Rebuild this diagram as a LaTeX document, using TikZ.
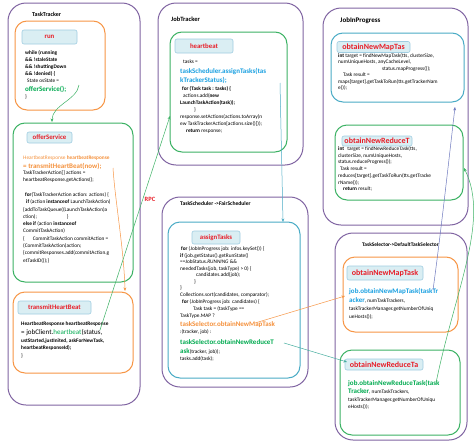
\documentclass[tikz,border=0pt]{standalone}
\usepackage{fontspec}
\setmainfont{Carlito}
\usetikzlibrary{arrows.meta}
\definecolor{cpurple}{RGB}{128,100,162}
\definecolor{corange}{RGB}{247,150,70}
\definecolor{cgreen}{RGB}{60,178,100}
\definecolor{ccyan}{RGB}{75,172,198}
\definecolor{hfill}{RGB}{218,238,243}
\definecolor{hline}{RGB}{160,205,225}
\definecolor{tred}{RGB}{232,30,40}
\definecolor{tblue}{RGB}{25,160,225}
\definecolor{tgreen}{RGB}{0,170,80}
\definecolor{torange}{RGB}{245,145,60}
\definecolor{cline}{RGB}{110,120,190}
\newcommand\cf{\fontsize{5.3}{6.5}\selectfont}
\newcommand\cbig{\fontsize{7}{8}\selectfont\bfseries}
\begin{document}
\begin{tikzpicture}[x=1pt,y=-1pt,
 outer/.style={draw=cpurple, line width=1pt, rounded corners=18pt},
 inbox/.style={line width=1pt, rounded corners=12pt},
 hdr/.style={fill=hfill, draw=hline, line width=0.6pt, rounded corners=2pt, inner sep=0pt, font=\fontsize{6.8}{8}\selectfont\bfseries, text=tred},
 hdrbig/.style={hdr, font=\fontsize{8}{9}\selectfont\bfseries},
 code/.style={font=\cf, anchor=base west, inner sep=0pt},
 ttl/.style={anchor=base west, inner sep=0pt},
 conn/.style={line width=0.5pt, -{Stealth[length=3.5pt,width=2.8pt]}},
]
\useasboundingbox (0,0) rectangle (474,442);
\fill[white] (0,0) rectangle (474,442);

% ---------------- TaskTracker ----------------
\draw[outer] (8,3) rectangle (140,405);
\node[ttl, font=\fontsize{6}{7}\selectfont\bfseries] (tTT) at (32,16) {TaskTracker};
\draw[inbox, draw=corange] (15,21) rectangle (105,110);
\draw[inbox, draw=cgreen] (13,123) rectangle (133,282);
\draw[inbox, draw=corange] (13,292) rectangle (133,373);

\foreach \t [count=\i from 0] in {{while (running},{\&\& !staleState},{\&\& !shuttingDown},{\&\& !denied) \{}}
  \node[code, font=\cf\bfseries] (run\i) at (25,54.5+7*\i) {\t};
\node[code] (run4) at (27,82.5) {State osState =};
\node[code, font=\cbig, text=tgreen] (run5) at (25,91.5) {offerService();};
\node[code] (run6) at (25,98.5) {\}};

\node[code, text=torange] (of0) at (23,159.5) {HeartbeatResponse \textbf{heartbeatResponse}};
\node[code, font=\cbig, text=torange] (of1) at (23,168) {= transmitHeartBeat(now);};
\foreach \t [count=\i from 2] in {
 {TaskTrackerAction[] actions =},
 {heartbeatResponse.getActions();},
 {},
 {\hspace*{2pt}\textbf{for}(TaskTrackerAction action: actions) \{},
 {\hspace*{3pt}\textbf{if} (action \textbf{instanceof} LaunchTaskAction)},
 {\{addToTaskQueue((LaunchTaskAction)a},
 {ction);\hspace*{30pt}\}},
 {\textbf{else if} (action \textbf{instanceof}},
 {CommitTaskAction)},
 {\{\hspace*{8pt}CommitTaskAction commitAction =},
 {(CommitTaskAction)action;},
 {\{commitResponses.add(commitAction.g},
 {etTaskID());\}}}
  \node[code] (of\i) at (23,174.5+7.3*\i-14.6) {\t};

\node[code, font=\cf\bfseries] (th0) at (21,325.5) {HeartbeatResponse heartbeatResponse};
\node[code, font=\fontsize{7}{8}\selectfont] (th1) at (21,334.5) {= jobClient.\textcolor{tgreen}{heartbeat}(status,};
\node[code, font=\cf\bfseries] (th2) at (21,342.5) {ustStarted,justInited, askForNewTask,};
\node[code, font=\cf\bfseries] (th3) at (21,349.5) {heartbeatResponseId);};
\node[code] (th4) at (21,357.5) {\}};

\node[hdr, minimum width=55pt, minimum height=14pt] (hrun) at (49.5,37) {run};
\node[hdr, minimum width=45pt, minimum height=11pt] (hof) at (49.5,137.5) {offerService};
\node[hdr, minimum width=73pt, minimum height=13pt] (hth) at (54.5,307.5) {transmitHeartBeat};

% ---------------- JobTracker ----------------
\draw[outer] (158,3) rectangle (303,165);
\node[ttl, font=\fontsize{6.5}{7}\selectfont\bfseries] (tJT) at (171,21) {JobTracker};
\draw[inbox, draw=cgreen] (170,32) rectangle (287,152);
\node[code] (hb0) at (183,63.5) {tasks =};
\node[code, font=\cbig, text=tblue] (hb1) at (180,73) {taskScheduler.assignTasks(tas};
\node[code, font=\cbig, text=tblue] (hb2) at (180,82) {kTrackerStatus);};
\foreach \t [count=\i from 3] in {
 {\hspace*{2pt}\textbf{for (Task task : tasks) \{}},
 {\hspace*{3pt}actions.add(\textbf{new}},
 {\textbf{LaunchTaskAction(task));}},
 {\hspace*{14pt}\}},
 {response.setActions(actions.toArray(n},
 {ew TaskTrackerAction[actions.size()]));},
 {\hspace*{6pt}\textbf{return} response;}}
  \node[code] (hb\i) at (180,90.5+7*\i-21) {\t};
\node[hdr, minimum width=58pt, minimum height=14pt] (hhb) at (204,46) {heartbeat};

% ---------------- TaskScheduler ----------------
\draw[outer] (162,197) rectangle (308,387);
\node[ttl, font=\fontsize{5.6}{7}\selectfont\bfseries] (tTS) at (180,205) {TaskScheduler ->FairScheduler};
\draw[inbox, draw=ccyan] (168,222) rectangle (300,378);
\foreach \t [count=\i from 0] in {
 {\hspace*{1pt}\textbf{for} (JobInProgress job: infos.keySet()) \{},
 {\textbf{if} (job.getStatus().getRunState()},
 {==JobStatus.\textit{RUNNING} \&\&},
 {neededTasks(job, taskType) > 0) \{},
 {\hspace*{16pt}candidates.add(job);},
 {\hspace*{14pt}\}},
 {\}},
 {Collections.sort(candidates, comparator);}}
  \node[code] (as\i) at (180,250.5+6.5*\i) {\t};
\node[code] (as8) at (180,303.5) {\hspace*{2pt}\textbf{for} (JobInProgress job: candidates) \{};
\node[code] (as9) at (180,310.5) {\hspace*{13pt}Task task = (taskType ==};
\node[code] (as10) at (180,317.5) {TaskType.MAP ?};
\node[code, font=\cbig, text=torange] (as11) at (180,326.5) {taskSelector.obtainNewMapTask};
\node[code] (as12) at (180,333.5) {:(tracker, job) :};
\node[code, font=\cbig, text=tgreen] (as13) at (180,344) {taskSelector.obtainNewReduceT};
\node[code] (as14) at (180,353) {\textcolor{tgreen}{\cbig ask}(tracker, job));};
\node[code] (as15) at (180,360) {tasks.add(task);};
\node[hdr, minimum width=48pt, minimum height=13pt] (has) at (216,237.5) {assignTasks};

% ---------------- JobInProgress ----------------
\draw[outer] (323,8) rectangle (468,225);
\node[ttl, font=\fontsize{7}{8}\selectfont\bfseries] (tJP) at (340,22.5) {JobInProgress};
\draw[inbox, draw=ccyan] (331,33) rectangle (464,102);
\foreach \t [count=\i from 0] in {
 {\textbf{int} target = findNewMapTask(tts, clusterSize,},
 {numUniqueHosts, anyCacheLevel,},
 {\hspace*{44pt}status.mapProgress());},
 {\hspace*{5pt}Task result =},
 {maps[target].getTaskToRun(tts.getTrackerNam},
 {e());}}
  \node[code] (jm\i) at (338,57.5+6.4*\i) {\t};
\node[hdrbig, minimum width=73pt, minimum height=11pt] (hjm) at (373.5,47) {obtainNewMapTas};
\draw[inbox, draw=cgreen] (335,125) rectangle (463,200);
\foreach \t [count=\i from 0] in {
 {\textbf{int}\hspace*{2pt} target = findNewReduceTask(tts,},
 {clusterSize, numUniqueHosts,},
 {status.reduceProgress());},
 {\hspace*{2pt}Task result =},
 {reduces[target].getTaskToRun(tts.getTracke},
 {rName());},
 {\hspace*{5pt}\textbf{return} result;}}
  \node[code] (jr\i) at (338,150.5+6.7*\i) {\t};
\node[hdrbig, minimum width=70pt, minimum height=10pt] (hjr) at (377,141) {obtainNewReduceT};

% ---------------- TaskSelector ----------------
\draw[outer] (335,233) rectangle (467,440);
\node[ttl, font=\fontsize{5.4}{7}\selectfont\bfseries] (tSel) at (362,246) {TaskSelector->DefaultTaskSelector};
\draw[inbox, draw=corange] (343,257) rectangle (458,332);
\node[code, font=\cbig, text=tblue] (sm0) at (349,293) {job.obtainNewMapTask(taskTr};
\node[code] (sm1) at (349,302) {\textcolor{tblue}{\cbig acker}, numTaskTrackers,};
\node[code] (sm2) at (349,310) {taskTrackerManager.getNumberOfUniq};
\node[code] (sm3) at (349,318.5) {ueHosts());};
\node[hdrbig, minimum width=76pt, minimum height=14pt] (hsm) at (385,273) {obtainNewMapTask};
\draw[inbox, draw=cgreen] (340,350) rectangle (460,435);
\node[code, font=\cbig, text=tgreen] (sr0) at (348,385) {job.obtainNewReduceTask(task};
\node[code] (sr1) at (348,393) {\textcolor{tgreen}{\cbig Tracker}, numTaskTrackers,};
\node[code] (sr2) at (348,401) {taskTrackerManager.getNumberOfUniqu};
\node[code] (sr3) at (348,408) {eHosts());};
\node[hdrbig, minimum width=78pt, minimum height=11pt] (hsr) at (384,364.5) {obtainNewReduceTa};

% ---------------- connectors ----------------
\node[font=\fontsize{6.5}{7}\selectfont\bfseries, text=tred, inner sep=0pt] (rpc) at (150,199) {RPC};
\coordinate (a1) at (79,85);   \coordinate (a1e) at (52,122);
\coordinate (a2) at (113,168); \coordinate (a2e) at (125,291);
\coordinate (a3) at (100,330); \coordinate (a3e) at (170,116);
\coordinate (a4) at (280,83);  \coordinate (a4e) at (283,222);
\coordinate (a5) at (255,323); \coordinate (a5e) at (345,296);
\coordinate (a6) at (284,343); \coordinate (a6e) at (347,362);
\coordinate (a7) at (433,290); \coordinate (a7e) at (455,107);
\coordinate (a8) at (436,383); \coordinate (a8e) at (464,168);
\draw[conn, cgreen] (a1) .. controls (77,100) and (52,105) .. (a1e);
\draw[conn, corange] (a2) .. controls (115,200) and (124,250) .. (a2e);
\draw[conn, cgreen] (a3) -- (a3e);
\draw[conn, ccyan] (a4) -- (a4e);
\draw[conn, corange] (a5) -- (a5e);
\draw[conn, ccyan!60!cgreen] (a6) -- (a6e);
\draw[conn, cline] (a7) .. controls (440,240) and (450,150) .. (a7e);
\draw[conn, cgreen] (a8) .. controls (455,290) and (490,220) .. (a8e);
\end{tikzpicture}
\end{document}
